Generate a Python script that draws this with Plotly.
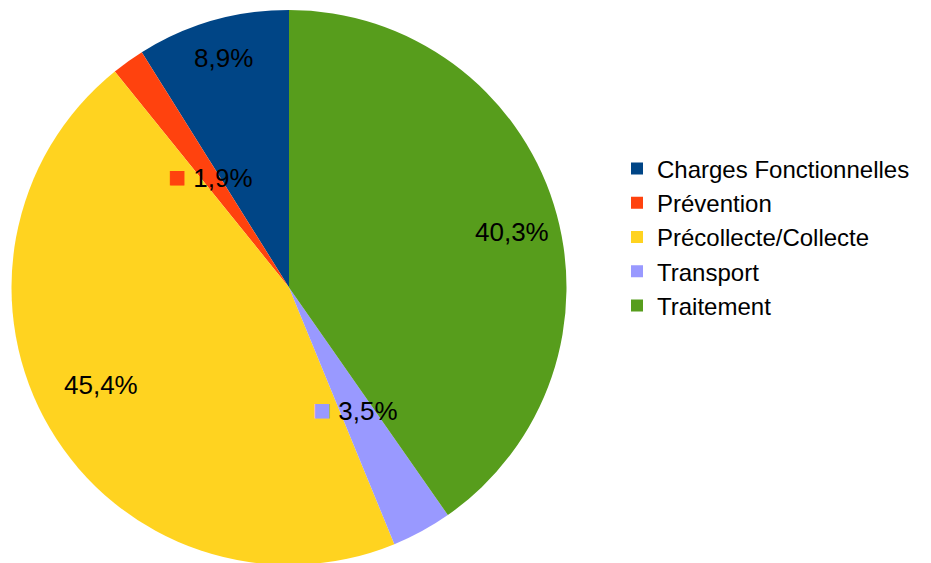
import math
import plotly.graph_objects as go

# data
labels = ['Charges Fonctionnelles', 'Prévention', 'Précollecte/Collecte', 'Transport', 'Traitement']
values = [8.9, 1.9, 45.4, 3.5, 40.3]
colors = ['#004586', '#ff420e', '#ffd320', '#9999ff', '#579d1c']

# label placement: radial fraction of the radius, nudge of the angle (deg),
# and whether a key square is drawn next to the value
label_radius = [0.86, 0.49, 0.763, 0.50, 0.828]
label_nudge = [0, 0, -3.2, 0, -3.5]
label_key = [False, True, False, True, False]

W, H = 931, 563
OFF = 8            # the page body has an 8px margin, so draw everything 8px up/left
TOP = 10 - OFF
BOT = 6
CX = 289 - OFF
R = (H - TOP - BOT) / 2
dom_x = [(CX - R) / W, (CX + R) / W]

total = sum(values)

fig = go.Figure(go.Pie(
    labels=labels,
    values=values,
    marker=dict(colors=colors, line=dict(width=0)),
    sort=False,
    direction='counterclockwise',
    # plotly starts a counterclockwise pie with the first slice ending at 12 o'clock
    rotation=-360 * values[0] / total,
    textinfo='none',
    hoverinfo='label+percent',
    domain=dict(x=dom_x, y=[0, 1]),
))

cy = TOP + R
cum = 0
for v, col, f, nd, key in zip(values, colors, label_radius, label_nudge, label_key):
    mid = (cum + v / 2) / total
    cum += v
    ang = 2 * math.pi * mid + math.radians(nd)
    px_x = CX - R * f * math.sin(ang)
    px_y = cy - R * f * math.cos(ang)
    txt = f"{v:.1f}".replace('.', ',') + '%'
    if key:
        txt = f"<span style='color:{col};font-size:30px'>■</span> " + txt
    fig.add_annotation(
        x=px_x / W, y=(H - BOT - px_y) / (H - TOP - BOT),
        xref='paper', yref='paper',
        xanchor='center', yanchor='middle',
        text=txt, showarrow=False,
        font=dict(family='Liberation Sans', size=26, color='black'),
    )

fig.update_layout(
    width=W, height=H,
    margin=dict(l=0, r=0, t=TOP, b=BOT),
    paper_bgcolor='white',
    plot_bgcolor='white',
    font=dict(family='Liberation Sans', size=24, color='black'),
    legend=dict(
        x=609 / W, y=(H - BOT - (237 - OFF)) / (H - TOP - BOT),
        xanchor='left', yanchor='middle',
        traceorder='normal',
        font=dict(size=24),
        itemclick=False,
    ),
)

fig.write_html("out.html")
